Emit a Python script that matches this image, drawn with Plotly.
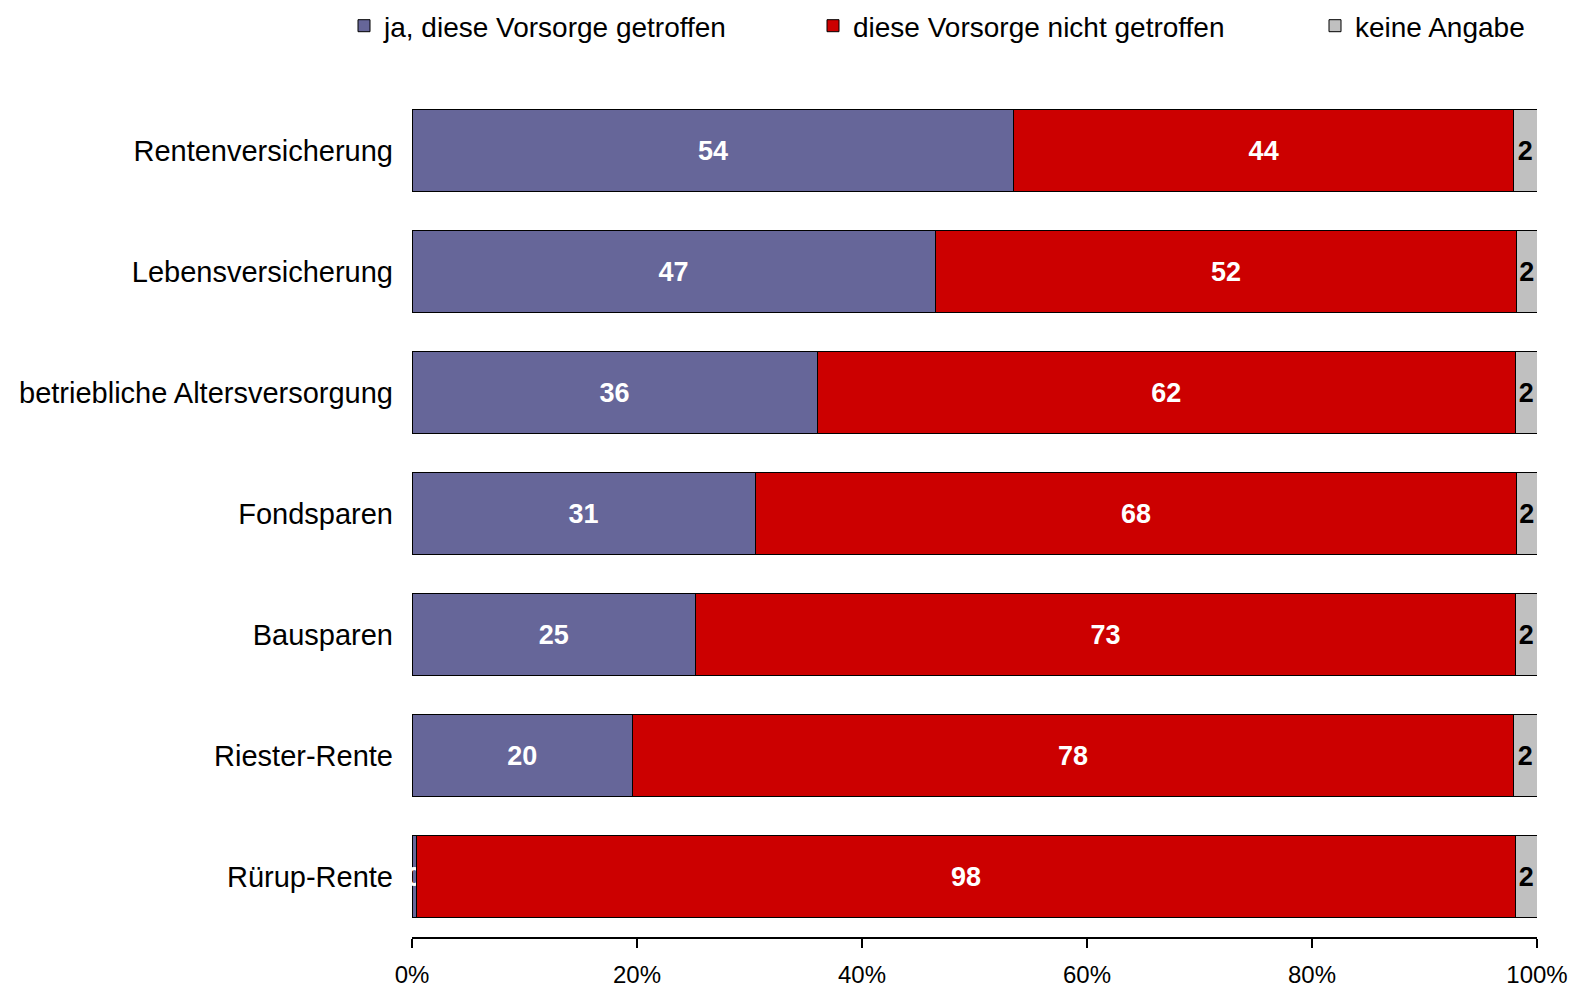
import math
import plotly.graph_objects as go

# ---- data ----
categories = [
    "Rentenversicherung",
    "Lebensversicherung",
    "betriebliche Altersversorgung",
    "Fondsparen",
    "Bausparen",
    "Riester-Rente",
    "Rürup-Rente",
]
ja_values = [53.5, 46.5, 36.0, 30.5, 25.2, 19.6, 0.4]
nicht_values = [44.4, 51.7, 62.1, 67.7, 72.9, 78.3, 97.7]
keine_values = [2.1, 1.8, 1.9, 1.8, 1.9, 2.1, 1.9]
series_names = ["ja, diese Vorsorge getroffen", "diese Vorsorge nicht getroffen", "keine Angabe"]
x_tick_values = [0, 20, 40, 60, 80, 100]
x_tick_labels = ["0%", "20%", "40%", "60%", "80%", "100%"]

# ---- styling ----
colors = ["#666699", "#CC0000", "#C0C0C0"]
text_colors = ["white", "white", "black"]
legend_ids = ["legend", "legend2", "legend3"]
PAGE_OFFSET = 8  # default body margin of the html page
legend_left_px = [344, 813, 1315]  # page coordinates
FONT = "Liberation Sans, Arial, sans-serif"
W, H = 1569, 980


def half_up(v):
    return str(int(math.floor(v + 0.5)))


fig = go.Figure()
for vals, name, col, tcol, lid in zip(
    [ja_values, nicht_values, keine_values], series_names, colors, text_colors, legend_ids
):
    fig.add_trace(
        go.Bar(
            y=categories,
            x=vals,
            name=name,
            orientation="h",
            marker=dict(color=col, line=dict(color="black", width=1)),
            text=[half_up(v) for v in vals],
            textposition="inside",
            insidetextanchor="middle",
            textangle=0,
            constraintext="none",
            textfont=dict(family=FONT, size=27, color=tcol, weight="bold"),
            legend=lid,
            showlegend=True,
            hoverinfo="skip",
            cliponaxis=False,
        )
    )

legend_common = dict(
    orientation="h",
    xref="container",
    yref="container",
    xanchor="left",
    yanchor="middle",
    y=1 - 18 / H,
    bgcolor="rgba(0,0,0,0)",
    borderwidth=0,
    visible=True,
    font=dict(family=FONT, size=28, color="black"),
)

fig.update_layout(
    width=W,
    height=H,
    showlegend=True,
    barmode="stack",
    barnorm="percent",
    bargap=0.322,
    paper_bgcolor="white",
    plot_bgcolor="white",
    margin=dict(l=404, r=40, t=82, b=51, pad=0, autoexpand=False),
    font=dict(family=FONT, color="black"),
    legend=dict(x=(legend_left_px[0] - PAGE_OFFSET) / W, **legend_common),
    legend2=dict(x=(legend_left_px[1] - PAGE_OFFSET) / W, **legend_common),
    legend3=dict(x=(legend_left_px[2] - PAGE_OFFSET) / W, **legend_common),
    xaxis=dict(
        range=[0, 100],
        tickvals=x_tick_values,
        ticktext=x_tick_labels,
        ticks="outside",
        ticklen=9,
        tickwidth=1.5,
        tickcolor="black",
        showline=True,
        linecolor="black",
        linewidth=1.5,
        showgrid=False,
        zeroline=False,
        automargin=False,
        ticklabelstandoff=6,
        tickfont=dict(family=FONT, size=24, color="black"),
        fixedrange=True,
    ),
    yaxis=dict(
        categoryorder="array",
        categoryarray=categories,
        autorange="reversed",
        showgrid=False,
        showline=False,
        zeroline=False,
        ticks="",
        automargin=False,
        ticklabelstandoff=18,
        tickfont=dict(family=FONT, size=29, color="black"),
        fixedrange=True,
    ),
)

fig.write_html("out.html")
